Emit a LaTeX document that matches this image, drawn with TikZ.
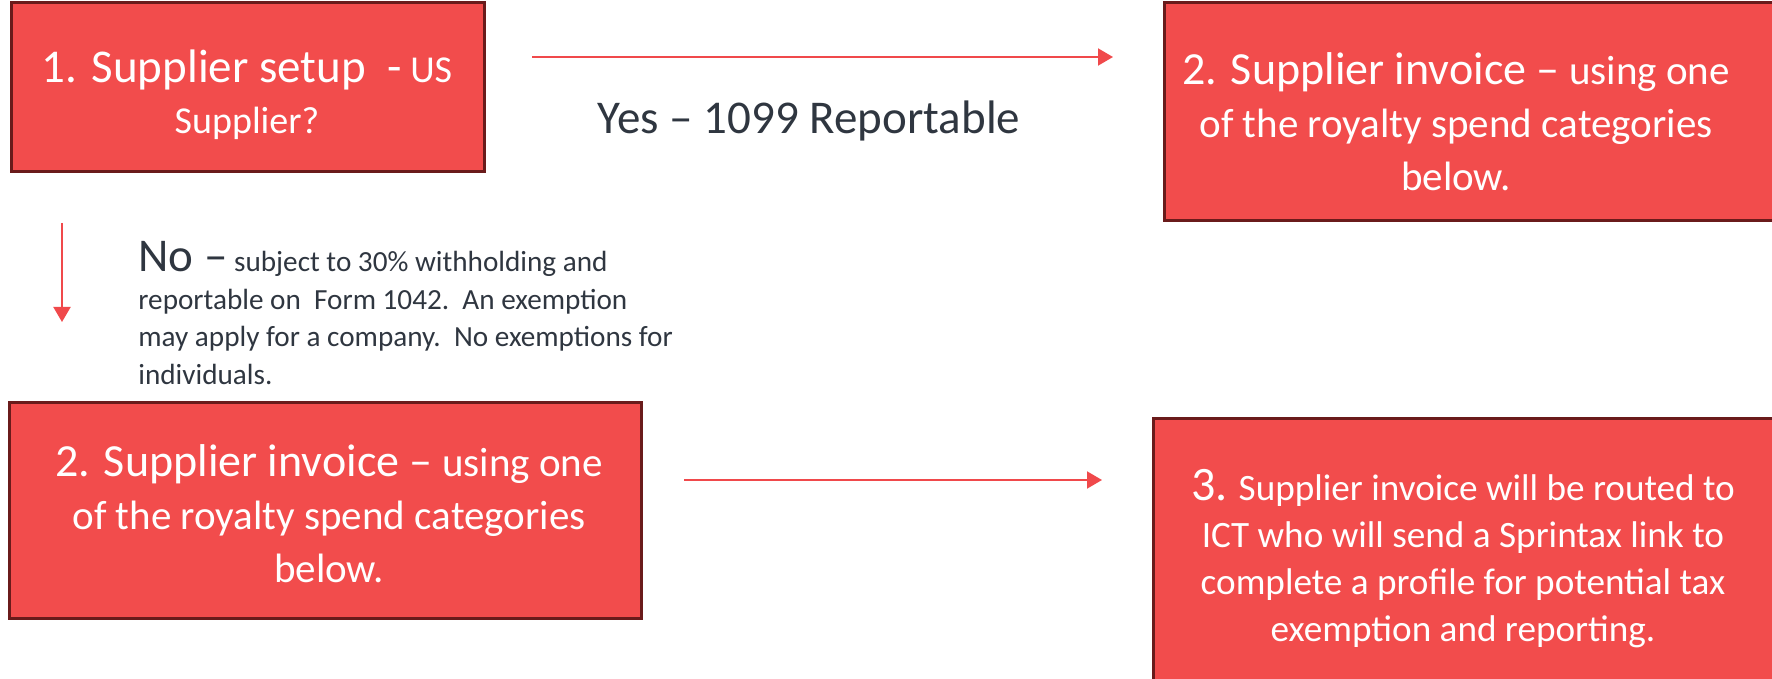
\documentclass[tikz,border=0pt]{standalone}
\usepackage{fontspec}
\setmainfont{Carlito}
\usetikzlibrary{arrows.meta}
\definecolor{boxred}{HTML}{F24C4C}
\definecolor{boxedge}{HTML}{6A1B1B}
\definecolor{labelgrey}{HTML}{2F3640}
\definecolor{arrred}{HTML}{F0494B}
\begin{document}
\begin{tikzpicture}[x=0.5pt,y=-0.5pt,
  box/.style={draw=boxedge, fill=boxred, line width=1.5pt, inner sep=0pt, outer sep=0pt},
  boxtext/.style={text=white, align=center, inner sep=0pt},
  lbl/.style={text=labelgrey, inner sep=0pt},
  arr/.style={draw=arrred, line width=1pt, -{Triangle[length=7.5pt,width=8.5pt]}}]
\useasboundingbox (0,0) rectangle (1772,679);
% boxes
\node[box, minimum width=236.5pt, minimum height=84.5pt] (b1) at (247.5,87.5) {};
\node[box, minimum width=318pt, minimum height=109pt] (b2) at (1482,112) {};
\node[box, minimum width=316pt, minimum height=108pt] (b4) at (325,510) {};
\node[box, minimum width=323.5pt, minimum height=151pt] (b3) at (1476.5,569) {};
% box texts
\node[boxtext, font=\fontsize{19}{25.5}\selectfont] (t1) at (247,95)
  {{\fontsize{23.5}{25.5}\selectfont 1. Supplier setup\ \ -} US\\ Supplier?};
\node[boxtext, font=\fontsize{20.5}{26.5}\selectfont] (t2) at (1456,122)
  {{\fontsize{23}{26.5}\selectfont 2. Supplier invoice –} using one\\ of the royalty spend categories\\ below.};
\node[boxtext, font=\fontsize{20.5}{26.5}\selectfont] (t4) at (329,514)
  {{\fontsize{23}{26.5}\selectfont 2. Supplier invoice –} using one\\ of the royalty spend categories\\ below.};
\node[boxtext, font=\fontsize{18.6}{23.5}\selectfont] (t3) at (1463,559)
  {{\fontsize{24}{23.5}\selectfont 3.} Supplier invoice will be routed to\\ ICT who will send a Sprintax link to\\ complete a profile for potential tax\\ exemption and reporting.};
% labels
\node[lbl, font=\fontsize{23.5}{28}\selectfont] (yes) at (809,121) {Yes – 1099 Reportable};
\node[lbl, anchor=north west, align=left, font=\fontsize{14.6}{18.8}\selectfont] (no) at (138,241)
  {{\fontsize{23.5}{18.8}\selectfont No –} subject to 30\% withholding and\\ reportable on\ \ Form 1042.\ \ An exemption\\ may apply for a company.\ \ No exemptions for\\ individuals.};
% connectors
\draw[arr, shorten <=24pt, shorten >=25.5pt] ([yshift=-27pt]b1.north east) -- ([yshift=-27pt]b1.north east -| b2.west);
\draw[arr, shorten <=25.5pt, shorten >=40pt] ([xshift=25.5pt]b1.south west) -- ([xshift=25.5pt]b1.south west |- b4.north);
\draw[arr, shorten <=21.5pt, shorten >=25.5pt] ([yshift=-39pt]b4.north east) -- ([yshift=-39pt]b4.north east -| b3.west);
\end{tikzpicture}
\end{document}
